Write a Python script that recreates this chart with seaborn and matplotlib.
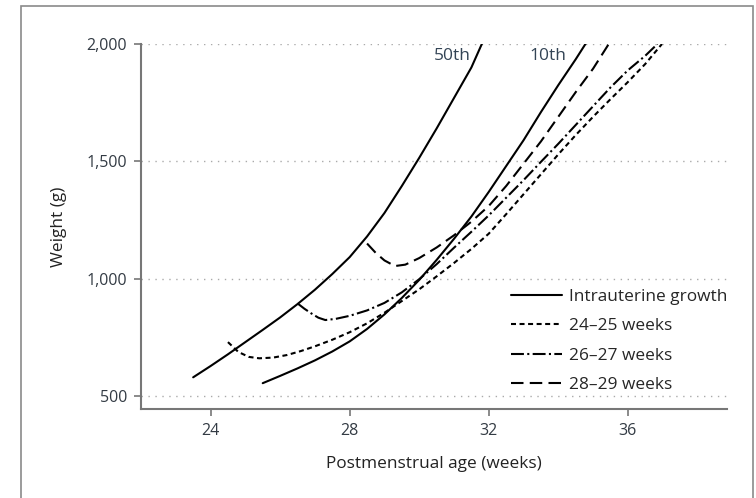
import numpy as np
import pandas as pd
import matplotlib
matplotlib.use('Agg')
import matplotlib.pyplot as plt
import seaborn as sns
from matplotlib.ticker import FuncFormatter
from matplotlib.patches import Rectangle

# Intrauterine growth reference curves (50th and 10th centile)
p50_age = [23.5, 24, 24.5, 25, 25.5, 26, 26.5, 27, 27.5, 28, 28.5, 29, 29.5, 30, 30.5, 31, 31.5, 31.8]
p50_wt = [580, 628, 678, 730, 782, 835, 892, 953, 1020, 1092, 1180, 1280, 1395, 1515, 1640, 1770, 1900, 2000]
p10_age = [25.5, 26, 26.5, 27, 27.5, 28, 28.5, 29, 29.5, 30, 30.5, 31, 31.5, 32, 32.5, 33, 33.5, 34, 34.5, 34.78]
p10_wt = [555, 586, 618, 652, 690, 733, 786, 848, 918, 995, 1080, 1170, 1265, 1370, 1480, 1590, 1710, 1825, 1935, 2000]

# Postnatal growth by gestational age at birth
g24_age = [24.5, 24.8, 25.1, 25.4, 25.8, 26.2, 26.6, 27, 27.5, 28, 28.5, 29, 29.5, 30, 30.5,
           31, 31.5, 32, 32.5, 33, 33.5, 34, 34.5, 35, 35.5, 36, 36.5, 36.98]
g24_wt = [730, 688, 667, 661, 664, 675, 692, 712, 740, 772, 810, 855, 905, 955, 1010,
          1067, 1127, 1192, 1275, 1360, 1445, 1530, 1612, 1690, 1765, 1838, 1915, 2000]
g26_age = [26.5, 26.7, 26.9, 27.1, 27.3, 27.6, 28, 28.5, 29, 29.5, 30, 30.5, 31, 31.5, 32,
           32.5, 33, 33.5, 34, 34.5, 35, 35.5, 36, 36.5, 36.85]
g26_wt = [895, 872, 852, 834, 824, 829, 842, 865, 897, 942, 998, 1062, 1132, 1200, 1270,
          1345, 1420, 1498, 1575, 1655, 1735, 1815, 1888, 1950, 2000]
g28_age = [28.5, 28.75, 29, 29.3, 29.6, 30, 30.5, 31, 31.5, 32, 32.5, 33, 33.5, 34, 34.5, 35, 35.45]
g28_wt = [1150, 1110, 1078, 1054, 1060, 1088, 1133, 1185, 1243, 1310, 1395, 1490, 1585, 1690, 1795, 1895, 2000]

legend_labels = ['Intrauterine growth', '24\u201325 weeks', '26\u201327 weeks', '28\u201329 weeks']
x_ticks = [24, 28, 32, 36]
y_ticks = [500, 1000, 1500, 2000]

sns.set_theme(style='white')
plt.rcParams['font.family'] = ['Open Sans', 'DejaVu Sans']

fig = plt.figure(figsize=(7.56, 4.98), dpi=100)
ax = fig.add_axes([141 / 756, 1 - 409 / 498, 586 / 756, 365 / 498])

# outer frame
fig.patches.append(Rectangle((21 / 756, -0.1), 731.5 / 756, 1.1 - 6 / 498,
                             transform=fig.transFigure, fill=False,
                             edgecolor='#8a8a8a', linewidth=1.2))

curves = [
    (p50_age, p50_wt, legend_labels[0], ''),
    (p10_age, p10_wt, None, ''),
    (g24_age, g24_wt, legend_labels[1], (2.4, 1.7)),
    (g26_age, g26_wt, legend_labels[2], (6.2, 1.6, 1.0, 1.6)),
    (g28_age, g28_wt, legend_labels[3], (6.0, 3.0)),
]
for xs, ys, lab, dash in curves:
    df = pd.DataFrame({'age': xs, 'wt': ys})
    sns.lineplot(data=df, x='age', y='wt', ax=ax, color='black',
                 linewidth=1.5, label=lab, sort=False)
    if dash:
        ax.lines[-1].set_dashes(dash)

ax.text(30.95, 1950, '50th', ha='center', va='center', fontsize=12.5, color='#334455')
ax.text(33.7, 1950, '10th', ha='center', va='center', fontsize=12.5, color='#334455')

ax.set_xlim(22, 38.85)
ax.set_ylim(445, 2000)
ax.set_xticks(x_ticks)
ax.set_yticks(y_ticks)
ax.yaxis.set_major_formatter(FuncFormatter(lambda v, p: f'{v:,.0f}'))
ax.yaxis.grid(True, linestyle=(0, (1, 4)), color='#aaaaaa', linewidth=1)
ax.set_axisbelow(True)

for s in ['top', 'right']:
    ax.spines[s].set_visible(False)
for s in ['left', 'bottom']:
    ax.spines[s].set_color('#777777')
    ax.spines[s].set_linewidth(1.5)
ax.tick_params(axis='both', which='major', direction='out', length=5, width=1.2,
               color='#777777', labelsize=11.5, labelcolor='#333b44', pad=5,
               bottom=True, left=True)

ax.set_xlabel('Postmenstrual age (weeks)', fontsize=12.4, color='#222222')
ax.set_ylabel('Weight (g)', fontsize=12.4, color='#222222')
ax.xaxis.set_label_coords(0.5, -0.129)
ax.yaxis.set_label_coords(-0.127, 0.5)

handles, labels = ax.get_legend_handles_labels()
ax.legend(handles, labels, loc='upper left', bbox_to_anchor=(0.631, 0.33),
          frameon=False, fontsize=12.4, handlelength=3.0, handletextpad=0.4,
          labelspacing=0.78, borderpad=0, borderaxespad=0)

fig.savefig('out.png', dpi=100)
